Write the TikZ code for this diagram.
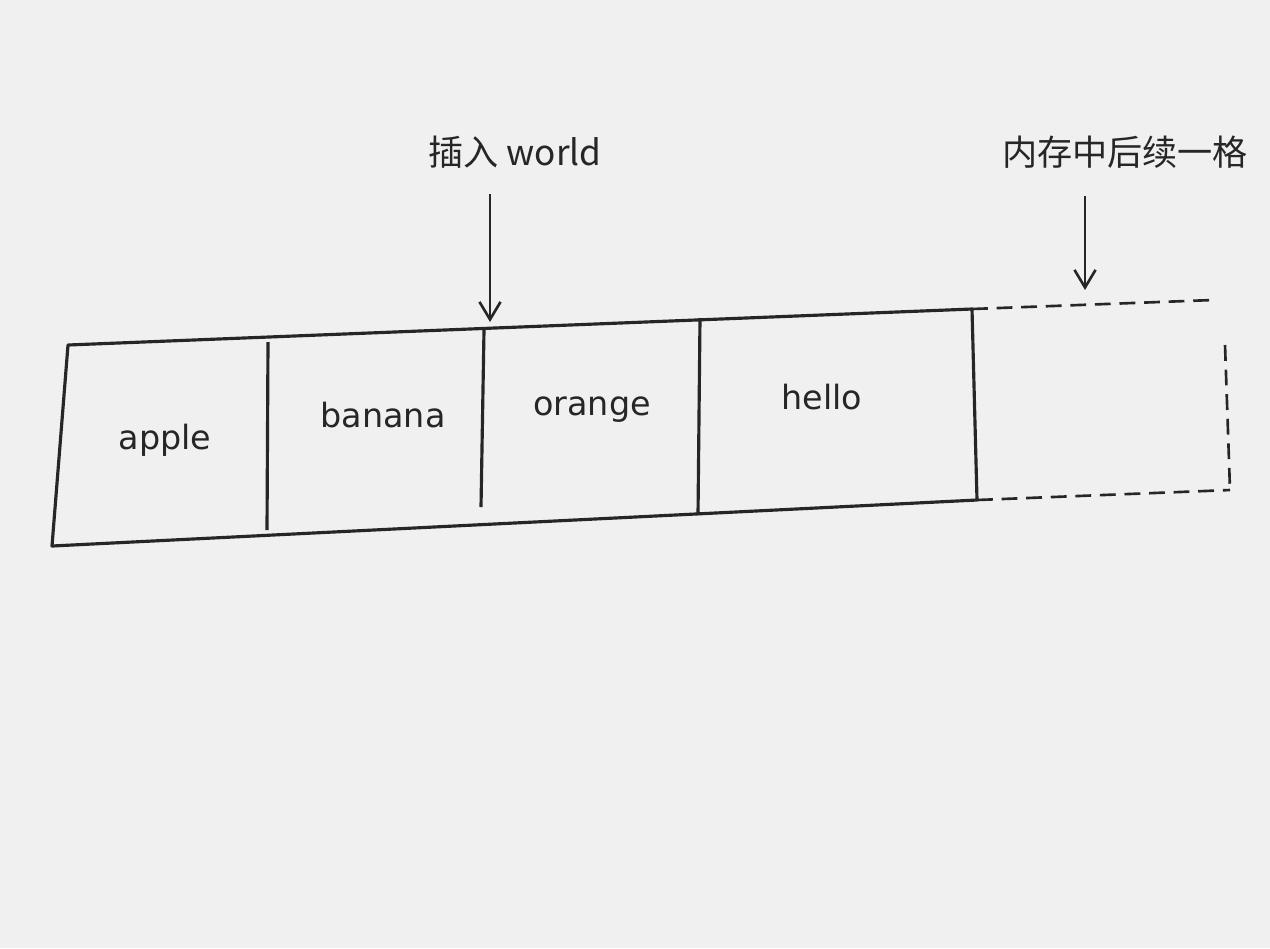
\documentclass[tikz,border=0pt]{standalone}
\usepackage{fontspec}
\setmainfont{DejaVu Sans}
\newfontfamily\cjk{Noto Sans CJK SC}
\usetikzlibrary{arrows.meta}
\begin{document}
\begin{tikzpicture}[x=0.02cm,y=-0.02cm,
  edge/.style={line width=1.8pt,draw=black!85,line join=round},
  ghost/.style={line width=1.5pt,draw=black!85,dash pattern=on 9pt off 5pt},
  label/.style={font=\fontsize{19}{22}\selectfont,text=black!85},
  note/.style={font=\cjk\fontsize{20}{24}\selectfont,text=black!85},
  pointer/.style={line width=1.5pt,draw=black!85,-{Straight Barb[length=10pt,width=12pt]}}]
\fill[gray!12] (0,0) rectangle (1270,948);
\useasboundingbox (0,0) rectangle (1270,948);
% main array corners
\coordinate (tl) at (68,345);
\coordinate (tr) at (972,309);
\coordinate (br) at (977,500);
\coordinate (bl) at (52,546);
\draw[edge] (tl) -- (tr) -- (br) -- (bl) -- cycle;
% dividers
\coordinate (d1t) at (268,342); \coordinate (d1b) at (267,530);
\coordinate (d2t) at (484,330); \coordinate (d2b) at (481,507);
\coordinate (d3t) at (700,318); \coordinate (d3b) at (698,515);
\draw[edge] (d1t) -- (d1b);
\draw[edge] (d2t) -- (d2b);
\draw[edge] (d3t) -- (d3b);
% next memory slot
\coordinate (gtr) at (1213,300);
\coordinate (gr1) at (1225,345);
\coordinate (gbr) at (1230,490);
\draw[ghost] (tr) -- (gtr);
\draw[ghost] (gr1) -- (gbr);
\draw[ghost] (br) -- (gbr);
% labels
\node[label] (apple) at (165,440) {apple};
\node[label] (banana) at (383,415) {banana};
\node[label] (orange) at (592,410) {orange};
\node[label] (hello) at (822,397) {hello};
% notes and pointers
\node[note] (ins) at (515,152) {插入 world};
\coordinate (insEnd) at (490,322);
\draw[pointer] (ins.south -| insEnd) ++(0,20) -- (insEnd);
\node[note] (nxt) at (1125,152) {内存中后续一格};
\coordinate (nxtEnd) at (1085,290);
\draw[pointer] (nxt.south -| nxtEnd) ++(0,22) -- (nxtEnd);
\end{tikzpicture}
\end{document}
